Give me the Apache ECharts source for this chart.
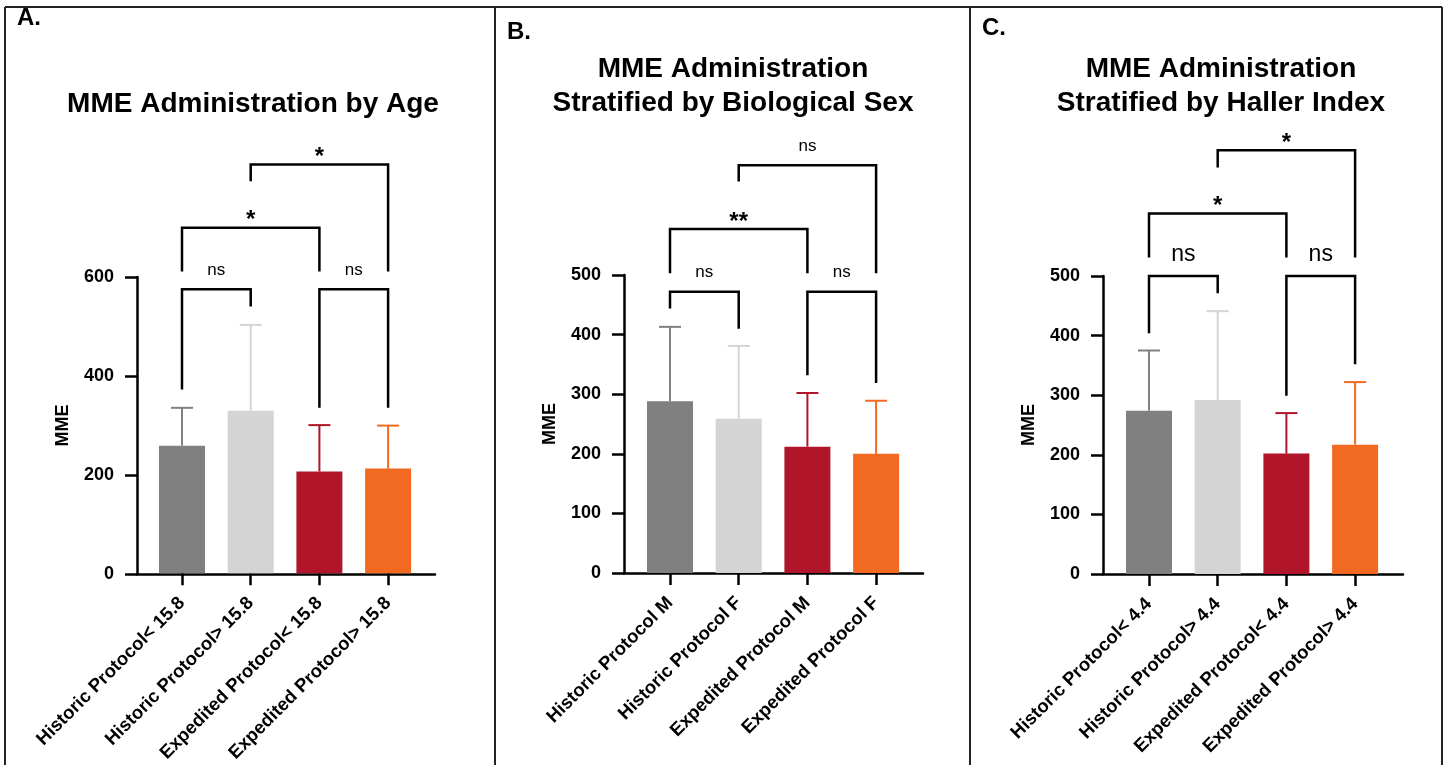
<!DOCTYPE html>
<html>
<head>
<meta charset="utf-8">
<script src="https://cdn.jsdelivr.net/npm/echarts@6/dist/echarts.min.js"></script>
<style>
  html, body { margin: 0; padding: 0; background: #fff; }
  #chart { width: 1448px; height: 765px; }
</style>
</head>
<body>
<div id="chart"></div>
<script>
const FONT = '"Liberation Sans", Arial, Helvetica, sans-serif'

// ---- data ----
const barColors = ['#808080', '#d4d4d4', '#b0152a', '#f26a22']

const ageCategories = ['Historic Protocol< 15.8', 'Historic Protocol> 15.8', 'Expedited Protocol< 15.8', 'Expedited Protocol> 15.8']
const ageMeans = [258, 329, 206, 212]
const ageUpper = [335, 503, 300, 299]
const ageTicks = [0, 200, 400, 600]
// [from, to, bracket height, left leg end, right leg end, label]
const ageBrackets = [
  [0, 1, 575, 372, 540, 'ns'],
  [2, 3, 575, 335, 335, 'ns'],
  [0, 2, 700, 611, 611, '*'],
  [1, 3, 828, 794, 611, '*']
]

const sexCategories = ['Historic Protocol M', 'Historic Protocol F', 'Expedited Protocol M', 'Expedited Protocol F']
const sexMeans = [288, 259, 212, 200]
const sexUpper = [413, 381, 302, 289]
const sexTicks = [0, 100, 200, 300, 400, 500]
const sexBrackets = [
  [0, 1, 472, 444, 410, 'ns'],
  [2, 3, 472, 332, 319, 'ns'],
  [0, 2, 577, 503, 503, '**'],
  [1, 3, 684, 657, 503, 'ns']
]

const hallerCategories = ['Historic Protocol< 4.4', 'Historic Protocol> 4.4', 'Expedited Protocol< 4.4', 'Expedited Protocol> 4.4']
const hallerMeans = [274, 292, 202, 217]
const hallerUpper = [375, 441, 270, 322]
const hallerTicks = [0, 100, 200, 300, 400, 500]
const hallerBrackets = [
  [0, 1, 500, 404, 471, 'ns'],
  [2, 3, 500, 299, 352, 'ns'],
  [0, 2, 605, 531, 531, '*'],
  [1, 3, 711, 682, 531, '*']
]

// ---- layout per panel ----
const panels = [
  { cats: ageCategories, means: ageMeans, upper: ageUpper, ticks: ageTicks, brackets: ageBrackets,
    x0: 137, x1: 435, y0: 277, y1: 574, tick0: 182, nsSize: 17 },
  { cats: sexCategories, means: sexMeans, upper: sexUpper, ticks: sexTicks, brackets: sexBrackets,
    x0: 624, x1: 923, y0: 275, y1: 573, tick0: 670, nsSize: 17 },
  { cats: hallerCategories, means: hallerMeans, upper: hallerUpper, ticks: hallerTicks, brackets: hallerBrackets,
    x0: 1103, x1: 1403, y0: 276, y1: 574, tick0: 1149, nsSize: 23 }
]
const BAND = 68.7

const chart = echarts.init(document.getElementById('chart'))

const grid = [], xAxis = [], yAxis = [], series = []
const axisLineStyle = { color: '#000', width: 2.5 }

panels.forEach((p, i) => {
  const wide = i * 2, narrow = i * 2 + 1
  const yMax = p.ticks[p.ticks.length - 1]
  const yStep = p.ticks[1] - p.ticks[0]

  grid.push({ left: p.x0, top: p.y0, width: p.x1 - p.x0, height: p.y1 - p.y0 })
  grid.push({ left: p.tick0 - BAND / 2, top: p.y0, width: BAND * 4, height: p.y1 - p.y0 })

  xAxis.push({
    gridIndex: wide, type: 'value', min: 0, max: 1,
    axisLine: { show: true, lineStyle: axisLineStyle },
    axisTick: { show: false }, axisLabel: { show: false }, splitLine: { show: false }
  })
  xAxis.push({
    gridIndex: narrow, type: 'category', data: p.cats,
    axisLine: { show: false },
    axisTick: { show: true, alignWithLabel: true, length: 12, lineStyle: axisLineStyle },
    axisLabel: {
      interval: 0, rotate: 45, margin: 27, color: '#000',
      fontSize: 18.5, fontWeight: 'bold', fontFamily: FONT
    }
  })
  yAxis.push({
    gridIndex: wide, type: 'value', min: 0, max: yMax, interval: yStep,
    name: 'MME', nameLocation: 'middle', nameGap: 65,
    nameTextStyle: { color: '#000', fontSize: 18, fontWeight: 'bold', fontFamily: FONT },
    axisLine: { show: true, lineStyle: axisLineStyle },
    axisTick: { show: true, length: 12, lineStyle: axisLineStyle },
    axisLabel: { margin: 23, color: '#000', fontSize: 18, fontWeight: 'bold', fontFamily: FONT },
    splitLine: { show: false }
  })
  yAxis.push({ gridIndex: narrow, type: 'value', min: 0, max: yMax, show: false })

  series.push({
    type: 'bar', xAxisIndex: narrow, yAxisIndex: narrow, barWidth: 46,
    data: p.means.map((v, k) => ({ value: v, itemStyle: { color: barColors[k] } }))
  })

  // error bars (upper only)
  series.push({
    type: 'custom', xAxisIndex: narrow, yAxisIndex: narrow, z: 3,
    data: p.means.map((m, k) => [k, m, p.upper[k]]),
    renderItem: (params, api) => {
      const k = params.dataIndex
      const base = api.coord([k, api.value(1)])
      const top = api.coord([k, api.value(2)])
      const col = barColors[k]
      return {
        type: 'group',
        children: [
          { type: 'line', shape: { x1: base[0], y1: base[1], x2: top[0], y2: top[1] }, style: { stroke: col, lineWidth: 2 } },
          { type: 'line', shape: { x1: top[0] - 11, y1: top[1], x2: top[0] + 11, y2: top[1] }, style: { stroke: col, lineWidth: 2 } }
        ]
      }
    }
  })

  // significance brackets
  series.push({
    type: 'custom', xAxisIndex: narrow, yAxisIndex: narrow, z: 4, clip: false,
    data: p.brackets.map(b => [b[0], b[2]]),
    renderItem: (params, api) => {
      const b = p.brackets[params.dataIndex]
      const lb = api.coord([b[0], b[3]])
      const lt = api.coord([b[0], b[2]])
      const rt = api.coord([b[1], b[2]])
      const rb = api.coord([b[1], b[4]])
      const isNs = b[5] === 'ns'
      const font = isNs ? `normal ${p.nsSize}px ${FONT}` : `bold 24px ${FONT}`
      const off = isNs ? (p.nsSize > 20 ? 10 : 11) : -5
      return {
        type: 'group',
        children: [
          { type: 'polyline', shape: { points: [lb, lt, rt, rb] },
            style: { stroke: '#000', lineWidth: 2.5, fill: null, lineJoin: 'miter' } },
          { type: 'text', x: (lt[0] + rt[0]) / 2, y: lt[1] - off,
            style: { text: b[5], fill: '#000', font, align: 'center', verticalAlign: 'bottom' } }
        ]
      }
    }
  })
})

const titleFont = `bold 28px ${FONT}`
const letterFont = `bold 24px ${FONT}`
const border = { stroke: '#222', lineWidth: 2 }

const graphic = [
  { type: 'line', shape: { x1: 5, y1: 7, x2: 1442, y2: 7 }, style: border },
  { type: 'line', shape: { x1: 5, y1: 7, x2: 5, y2: 765 }, style: border },
  { type: 'line', shape: { x1: 495, y1: 7, x2: 495, y2: 765 }, style: border },
  { type: 'line', shape: { x1: 970, y1: 7, x2: 970, y2: 765 }, style: border },
  { type: 'line', shape: { x1: 1442, y1: 7, x2: 1442, y2: 765 }, style: border },
  { type: 'text', x: 17, y: 18, style: { text: 'A.', font: letterFont, fill: '#000', verticalAlign: 'middle' } },
  { type: 'text', x: 507, y: 32, style: { text: 'B.', font: letterFont, fill: '#000', verticalAlign: 'middle' } },
  { type: 'text', x: 982, y: 28, style: { text: 'C.', font: letterFont, fill: '#000', verticalAlign: 'middle' } },
  { type: 'text', x: 253, y: 104, style: { text: 'MME Administration by Age', font: titleFont, fill: '#000', align: 'center', verticalAlign: 'middle' } },
  { type: 'text', x: 733, y: 86, style: { text: 'MME Administration\nStratified by Biological Sex', font: titleFont, lineHeight: 34, fill: '#000', align: 'center', verticalAlign: 'middle' } },
  { type: 'text', x: 1221, y: 86, style: { text: 'MME Administration\nStratified by Haller Index', font: titleFont, lineHeight: 34, fill: '#000', align: 'center', verticalAlign: 'middle' } }
]

chart.setOption({
  animation: false,
  backgroundColor: '#fff',
  grid, xAxis, yAxis, series, graphic
})
</script>
</body>
</html>
